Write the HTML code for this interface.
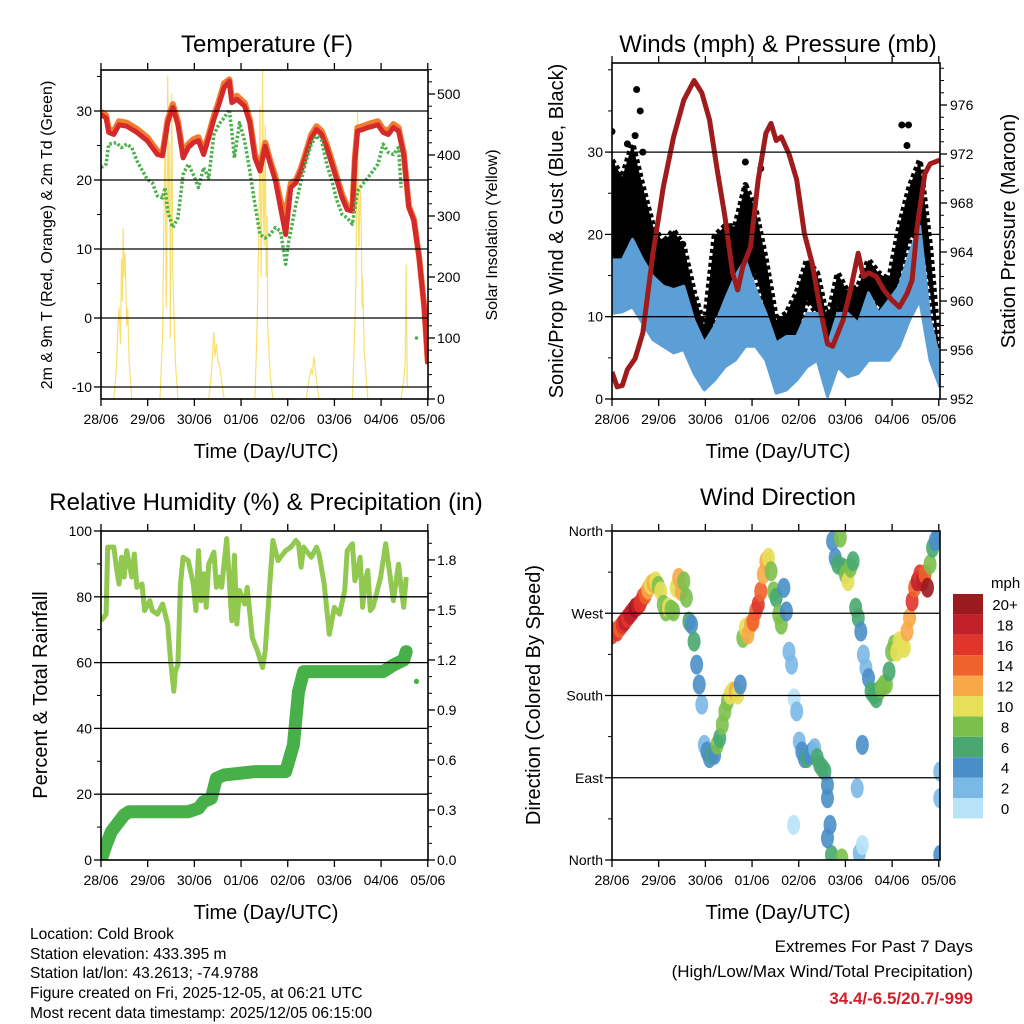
<!DOCTYPE html>
<html><head><meta charset="utf-8">
<style>
html,body{margin:0;padding:0;background:#fff;}
svg{display:block;font-family:"Liberation Sans",Arial,sans-serif;}
</style></head>
<body>
<svg id="root" width="1024" height="1024" viewBox="0 0 1024 1024">
<defs>
<clipPath id="c1"><rect x="101" y="70" width="327" height="329"/></clipPath>
<clipPath id="c2"><rect x="612" y="63" width="328" height="336"/></clipPath>
<clipPath id="c3"><rect x="101" y="531" width="327" height="329"/></clipPath>
<clipPath id="c4"><rect x="612" y="531" width="328" height="329"/></clipPath>
</defs>
<text x="267" y="52" font-size="24" text-anchor="middle">Temperature (F)</text>
<text x="778" y="52" font-size="24" text-anchor="middle">Winds (mph) &amp; Pressure (mb)</text>
<text x="266" y="510" font-size="24" text-anchor="middle">Relative Humidity (%) &amp; Precipitation (in)</text>
<text x="778" y="505" font-size="24" text-anchor="middle">Wind Direction</text>

<text transform="translate(52,235) rotate(-90)" font-size="16" text-anchor="middle">2m &amp; 9m T (Red, Orange) &amp; 2m Td (Green)</text>
<text transform="translate(497,235) rotate(-90)" font-size="16" text-anchor="middle">Solar Insolation (Yellow)</text>
<text transform="translate(563,231) rotate(-90)" font-size="20" text-anchor="middle">Sonic/Prop Wind &amp; Gust (Blue, Black)</text>
<text transform="translate(1015,231) rotate(-90)" font-size="20" text-anchor="middle">Station Pressure (Maroon)</text>
<text transform="translate(47,695) rotate(-90)" font-size="20" text-anchor="middle">Percent &amp; Total Rainfall</text>
<text transform="translate(540,695) rotate(-90)" font-size="20" text-anchor="middle">Direction (Colored By Speed)</text>

<text x="266" y="458" font-size="20" text-anchor="middle">Time (Day/UTC)</text>
<text x="778" y="458" font-size="20" text-anchor="middle">Time (Day/UTC)</text>
<text x="266" y="919" font-size="20" text-anchor="middle">Time (Day/UTC)</text>
<text x="778" y="919" font-size="20" text-anchor="middle">Time (Day/UTC)</text>

<g font-size="15.5">
<text x="30" y="939">Location: Cold Brook</text>
<text x="30" y="959">Station elevation: 433.395 m</text>
<text x="30" y="978">Station lat/lon: 43.2613; -74.9788</text>
<text x="30" y="998">Figure created on Fri, 2025-12-05, at 06:21 UTC</text>
<text x="30" y="1018">Most recent data timestamp: 2025/12/05 06:15:00</text>
</g>
<g font-size="17" text-anchor="end">
<text x="973" y="952">Extremes For Past 7 Days</text>
<text x="973" y="977">(High/Low/Max Wind/Total Precipitation)</text>
<text x="973" y="1004" fill="#d0202a" font-weight="bold">34.4/-6.5/20.7/-999</text>
</g>
</svg>
<script>
// ---------- DATA ----------
const xTickLabels=['28/06','29/06','30/06','01/06','02/06','03/06','04/06','05/06'];
const xTickPos=[0,0.91,1.82,2.73,3.64,4.55,5.46,6.37];

const tDays=[0,0.1,0.15,0.25,0.35,0.5,0.7,0.9,1.1,1.2,1.3,1.4,1.5,1.6,1.7,1.8,1.9,2.0,2.1,2.2,2.3,2.4,2.5,2.55,2.65,2.8,2.9,3.0,3.1,3.2,3.3,3.4,3.5,3.6,3.7,3.8,3.9,4.0,4.1,4.2,4.3,4.4,4.5,4.6,4.7,4.8,4.9,4.95,5.0,5.1,5.2,5.3,5.4,5.5,5.6,5.7,5.8,5.9,6.0,6.1,6.2,6.3,6.37];
const temp2m=[29.5,29,26.9,26.6,28,27.8,26.9,25.7,23.7,23.5,28.3,30.5,28,23.2,24.7,25.4,25.7,23.7,26.1,28.8,31,33.4,34.3,31.2,31.7,30.7,28.3,23.2,21.3,24.9,22.3,19.9,16,12.1,18.9,19.6,21.3,23.7,26.1,27.3,26.6,24.7,22.3,19.9,17.4,15.7,15.5,22.8,27.1,27.3,27.6,27.8,28,26.9,26.6,27.6,27.1,23.7,16,14.1,8.7,1.5,-6.7];
const temp9m=[29.9,29.4,27.4,27.1,28.5,28.3,27.4,26.2,24.2,24,28.8,31,28.5,23.8,25.2,25.9,26.2,24.2,26.6,29.3,31.5,34,34.6,31.8,32.2,31.2,28.8,23.8,21.9,25.4,22.8,20.5,17,15,19.5,20,21.8,24.2,26.6,27.8,27.1,25.2,22.8,20.4,17.9,16.2,16,23.3,27.6,27.8,28.1,28.3,28.5,27.4,27.1,28.1,27.6,24,16.3,14.3,8.9,1.7,-6.5];
const tdDays=[0,0.1,0.15,0.3,0.4,0.5,0.6,0.7,0.9,1.0,1.1,1.2,1.25,1.3,1.4,1.5,1.6,1.7,1.8,1.9,2.0,2.1,2.2,2.3,2.4,2.5,2.55,2.6,2.7,2.8,2.9,3.0,3.1,3.2,3.3,3.4,3.5,3.6,3.65,3.7,3.8,3.9,4.0,4.1,4.2,4.3,4.4,4.5,4.6,4.7,4.8,4.9,5.0,5.1,5.2,5.3,5.4,5.5,5.6,5.7,5.8,5.85];
const dew2m=[21.8,22.3,25.2,25.4,24.7,25.2,24.7,22.8,20.1,19.6,17.7,17.4,18.9,15.5,13.1,14.5,20.8,22.3,20.8,18.9,21.8,20.3,26.6,28.1,29,30.2,27.1,23.2,28.3,25.7,21.3,16.5,12.1,11.6,12.1,13.1,12.6,7.8,10.7,12.6,16.5,19.9,22.8,25.2,26.4,25.7,22.3,19.9,17,15,14.5,13.6,18.4,19.4,20.3,21.3,22.3,25.2,24,23.7,24.7,18.9];
const dewLoneDay=[6.15];
const dewLoneVal=[-2.9];
const solDays=[0,0.25,0.3,0.33,0.35,0.38,0.4,0.42,0.43,0.45,0.47,0.5,0.52,0.55,0.6,1.15,1.18,1.2,1.22,1.25,1.27,1.28,1.3,1.32,1.34,1.35,1.37,1.38,1.4,1.42,1.45,1.5,2.1,2.15,2.18,2.2,2.22,2.25,2.28,2.3,2.35,2.4,3.0,3.03,3.05,3.08,3.1,3.12,3.14,3.15,3.17,3.18,3.2,3.22,3.24,3.25,3.3,3.35,4.0,4.05,4.1,4.12,4.15,4.2,4.25,4.9,4.95,4.97,4.99,5.0,5.02,5.03,5.05,5.07,5.09,5.1,5.13,5.2,5.85,5.9,5.93,5.95,5.97];
const solVals=[0,0,50,120,150,90,230,160,280,200,240,120,150,60,0,0,60,100,250,450,150,200,530,300,420,100,320,500,200,150,60,0,0,40,80,110,70,90,60,60,30,0,0,80,150,300,480,200,350,540,300,250,450,200,300,120,40,0,0,30,50,40,70,30,0,0,120,200,420,470,250,250,350,300,150,200,80,0,0,30,60,220,20];

const pDays=[0,0.1,0.2,0.3,0.45,0.6,0.8,1.0,1.2,1.4,1.6,1.75,1.9,2.05,2.2,2.35,2.45,2.55,2.7,2.85,3.0,3.1,3.2,3.3,3.45,3.6,3.75,3.9,4.05,4.2,4.3,4.5,4.65,4.8,4.9,5.0,5.15,5.3,5.45,5.6,5.75,5.85,5.95,6.1,6.2,6.39];
const pressure=[954.2,953.0,953.1,954.4,955.3,957.4,963.9,969.3,973.4,976.4,978.0,977.0,974.8,970.7,966.9,962.3,960.9,962.8,964.4,969.9,973.7,974.5,973.1,973.4,972.0,969.9,965.5,963.1,959.5,956.5,956.3,958.4,960.9,963.9,962.0,962.3,962.0,960.9,960.1,959.5,960.6,961.7,966.1,970.4,971.2,971.5];
const wDays=[0,0.2,0.4,0.6,0.8,1.0,1.2,1.4,1.6,1.8,2.0,2.2,2.4,2.6,2.8,3.0,3.2,3.4,3.6,3.8,4.0,4.2,4.4,4.6,4.8,5.0,5.2,5.4,5.6,5.8,6.0,6.2,6.39];
const windHigh=[16.9,16.9,19.4,16.9,14.9,13.7,13.3,13.7,9.5,6.8,8.8,12,14.9,16.9,13.3,10.4,6.8,7.6,7.6,10.4,10.4,6.4,10.4,10.4,9.2,12.9,10.4,12,13.7,17.7,21,9.6,4.7];
const windLow=[10.4,10.6,11.2,9.2,7.2,6.4,5.6,6,3.1,1.1,2.3,3.9,4.7,6.4,6.4,4.7,0.7,1.1,2.3,3.9,4.7,0.3,3.9,2.7,3.1,4.7,4.7,4.7,6.4,9.6,12,4.7,1.5];
const gustHigh=[29,27,31,25.8,21,19,20.5,18.5,12.9,8.8,19.8,21,21,26,23,16.9,9.6,10.4,12.9,16.9,15.3,9.6,15.3,12.9,13.7,16.9,15.3,14.5,21,25.8,29,18.5,4.7];
const gustLow=[12.9,12,13.7,12.9,11.2,12,10.4,8.8,5.6,4.7,9.6,12,12.9,14.5,15.3,10.4,5.6,6.4,7.2,12,10.4,5.6,11.2,8.8,8.8,12.9,11.2,10.4,14.5,19.4,21,12.9,3.9];
const gustOutDays=[0.0,0.45,0.48,0.55,1.38,2.6,2.9,5.65,5.75,5.78,0.6,0.3];
const gustOutVals=[32.5,32,37.6,35,18.8,28.8,28,33.3,30.8,33.3,30,31];

const rhDays=[0,0.1,0.13,0.25,0.3,0.35,0.4,0.45,0.5,0.6,0.65,0.7,0.8,0.85,0.95,1.0,1.1,1.2,1.3,1.35,1.42,1.45,1.5,1.55,1.6,1.7,1.8,1.85,1.9,1.95,2.0,2.05,2.1,2.2,2.25,2.3,2.35,2.45,2.55,2.6,2.65,2.7,2.8,2.85,2.95,3.05,3.15,3.2,3.3,3.35,3.45,3.5,3.6,3.7,3.8,3.85,3.9,3.95,4.1,4.2,4.25,4.35,4.45,4.55,4.65,4.75,4.8,4.9,4.95,5.0,5.05,5.1,5.15,5.2,5.25,5.3,5.35,5.45,5.55,5.7,5.8,5.85,5.9,5.95];
const rh=[72.7,74.7,95.1,95.1,89,83.9,92,86,94,86,93,82.9,83.9,75.8,78.8,75.8,74.7,77.8,71.7,61.5,51.3,57.4,59.3,83.9,92,91,83.9,75.8,94,78.8,87,76.8,89.9,93.6,82.9,86,82.9,97.7,72.7,92.6,71.7,81.9,77.8,82.9,67.6,63.5,58.5,63.5,86,97.1,91,92,94,95.1,97.1,96.1,89,95.1,92,95.1,93,83.9,68.6,76.8,74.7,81.9,94,96.1,84.9,88,92,76.8,84.9,88,75.8,76.8,79.8,86,96.1,78.8,89.9,83,76.8,86];
const rhLoneDay=[6.15];
const rhLoneVal=[54.4];
const prDays=[0,0.1,0.2,0.3,0.45,0.55,1.0,1.7,1.9,2.0,2.15,2.25,2.4,3.0,3.6,3.75,3.85,3.95,4.1,4.5,5.5,5.7,5.9,5.95];
const precip=[0,0.09,0.17,0.21,0.27,0.29,0.29,0.29,0.31,0.35,0.37,0.49,0.51,0.53,0.53,0.69,1.01,1.13,1.13,1.13,1.13,1.17,1.2,1.25];
const prLoneDay=[6.15];
const prLoneVal=[1.07];

const dirDays=[0,0.05,0.1,0.15,0.2,0.25,0.3,0.35,0.4,0.45,0.5,0.55,0.6,0.65,0.7,0.75,0.8,0.85,0.9,0.95,1.0,1.05,1.1,1.15,1.2,1.25,1.3,1.35,1.4,1.45,1.5,1.55,1.6,1.65,1.7,1.75,1.8,1.85,1.9,1.95,2.0,2.05,2.1,2.15,2.2,2.25,2.3,2.35,2.4,2.45,2.5,2.55,2.6,2.65,2.7,2.75,2.8,2.85,2.9,2.95,3.0,3.05,3.1,3.15,3.2,3.25,3.3,3.35,3.4,3.45,3.5,3.55,3.6,3.65,3.7,3.75,3.8,3.85,3.9,3.95,4.0,4.05,4.1,4.15,4.2,4.25,4.28,4.3,4.35,4.4,4.45,4.5,4.55,4.6,4.65,4.7,4.75,4.8,4.85,4.9,4.95,5.0,5.05,5.1,5.15,5.2,5.25,5.3,5.35,5.4,5.45,5.5,5.55,5.6,5.65,5.7,5.75,5.8,5.85,5.9,5.95,6.0,6.05,6.1,6.15,6.2,6.25,6.3,6.35,6.39,6.39,6.39,4.82,4.78,3.54,4.88,4.88,4.48,4.2,4.2];
const dirVals=[246.7,250,250,254,257.7,261,265,268.6,272,276,277.8,281,287,290.4,296,301.5,303,305,300,294,279.5,272,276,274,272,297.8,308.7,294,305,287,261,257.6,239,213.8,192,170,126,118.8,111.5,115,115,126,133.4,148,162.6,173.6,181,184.6,184.6,181,192,243,254,246.7,257.7,261,272,279.5,294,312.6,327,330.7,316,294,287,268.6,257.6,297.8,272,228,213.8,177,162.6,129.7,118.8,111.5,111.5,115,118.8,122.4,111.5,104,100.5,96.9,82,38.4,5.5,349,330.7,323.5,352.7,319.8,312.5,305,319.8,327,276,265,250,224.8,210,199,184.6,181,177,184.6,188,192,192,206.4,228,235.8,228,239.4,235.8,232,250,265,283,298,305,312.5,305,312.5,298,323.5,341.7,349,356,96.8,67.6,5.5,7.3,78.5,38.4,16.4,126,1.8,67.6,23.8];
const dirSpeed=[16,14,16,14,16,18,16,18,18,20,18,16,16,14,12,10,12,10,8,10,8,8,10,8,8,10,12,12,8,8,6,4,6,4,4,2,2,4,4,6,4,8,6,8,8,8,10,10,12,10,4,8,10,12,12,14,14,16,14,12,12,10,8,8,6,8,8,4,4,2,2,0,2,2,4,4,6,4,4,2,6,6,6,6,4,4,6,4,4,6,8,6,8,10,8,6,6,6,4,2,2,4,6,6,6,6,8,8,8,6,8,8,10,10,10,10,12,12,16,14,18,16,18,14,20,8,6,4,4,2,2,4,2,2,0,0,4,8,4,4];
const speedLabels=['0','2','4','6','8','10','12','14','16','18','20+'];
const speedColors=['#b8e2f8','#7ab8e6','#4a8ec8','#48a870','#7cc04c','#e6e058','#f8a848','#f0622b','#e0352b','#c0202a','#9b1a1e'];

// ---------- AXES ----------
const x1=d=>101+d*51.3, yT=v=>111+(30-v)*6.9, ySol=s=>399-s*0.61;
const x2=d=>612+d*51.3, yW=v=>399-v*8.23, yP=p=>399-(p-952)*12.25;
const x3=d=>101+d*51.3, yRH=v=>860-v*3.29, yPc=p=>860-p*166.7;
const x4=d=>612+d*51.3, yD=v=>860-v*329/360;

const NS='http://www.w3.org/2000/svg';
const root=document.getElementById('root');
function mk(tag,parent,o){const e=document.createElementNS(NS,tag);for(const k in o)e.setAttribute(k,o[k]);parent.appendChild(e);return e;}
function pts(xs,ys,fx,fy){return xs.map((d,i)=>fx(d).toFixed(1)+','+fy(ys[i]).toFixed(1)).join(' ');}

function frame(name,L,T,R,B,clip){
  const g=mk('g',root,{});
  
  
  const m=mk('g',g,{'clip-path':'url(#'+clip+')'});
  
  
  return {g,m,L,T,R,B};
}
function grid(P,ys,name){
  ys.forEach(y=>{const l=mk('line',P.g,{x1:P.L,x2:P.R,y1:y,y2:y,stroke:'#000','stroke-width':1.3});
    
    });
}
function border(P){
  const r=mk('rect',P.g,{x:P.L,y:P.T,width:P.R-P.L,height:P.B-P.T,fill:'none',stroke:'#000','stroke-width':1.6});
  
  
  xTickPos.forEach((d,i)=>{
    const x=P.L+d*51.3;
    const t1=mk('line',P.g,{x1:x,x2:x,y1:P.B,y2:P.B+7,stroke:'#000','stroke-width':1.3});
    
    
    const t2=mk('line',P.g,{x1:x,x2:x,y1:P.T,y2:P.T-7,stroke:'#000','stroke-width':1.3});
    
    
    const tx=mk('text',P.g,{x:x,y:P.B+25,'font-size':14,'text-anchor':'middle'});
    tx.textContent=xTickLabels[i];
    
    
  });
}
function yAxis(P,side,vals,fy,labels,minorVals,anchorX){
  vals.forEach((v,i)=>{
    const y=fy(v), x=side<0?P.L:P.R;
    const t=mk('line',P.g,{x1:x,x2:x+side*7,y1:y,y2:y,stroke:'#000','stroke-width':1.3});
    
    
    const tx=mk('text',P.g,{x:anchorX,y:y+5,'font-size':14,'text-anchor':side<0?'end':'start'});
    tx.textContent=labels[i];
    
    
  });
  minorVals.forEach(v=>{
    const y=fy(v), x=side<0?P.L:P.R;
    const t=mk('line',P.g,{x1:x,x2:x+side*4,y1:y,y2:y,stroke:'#000','stroke-width':1});
    
    
  });
}
function range(a,b,s){const r=[];for(let v=a;v<=b+1e-9;v+=s)r.push(+v.toFixed(3));return r;}

// ---------- PANEL 1 ----------
const P1=frame('temperature-panel',101,70,428,399,'c1');
grid(P1,[30,20,10,0,-10].map(yT),'temperature-gridline');
let e;
e=mk('polyline',P1.m,{points:pts(solDays,solVals,x1,ySol),fill:'none',stroke:'#f8e070','stroke-width':1.2});


e=mk('polyline',P1.m,{points:pts(tDays,temp9m,x1,yT),fill:'none',stroke:'#f47a30','stroke-width':6,'stroke-linejoin':'round'});


e=mk('polyline',P1.m,{points:pts(tDays,temp2m,x1,yT),fill:'none',stroke:'#d42a2a','stroke-width':5,'stroke-linejoin':'round'});


e=mk('polyline',P1.m,{points:pts(tdDays,dew2m,x1,yT),fill:'none',stroke:'#4cb04c','stroke-width':3.5,'stroke-dasharray':'2.5 2','stroke-linejoin':'round'});


dewLoneDay.forEach((d,i)=>{e=mk('circle',P1.m,{cx:x1(d),cy:yT(dewLoneVal[i]),r:1.8,fill:'#4cb04c'});

});
border(P1);
yAxis(P1,-1,[30,20,10,0,-10],yT,['30','20','10','0','-10'],[35,25,15,5,-5],92);
yAxis(P1,1,[0,100,200,300,400,500],ySol,['0','100','200','300','400','500'],range(20,540,20),437);

// ---------- PANEL 2 ----------
const P2=frame('winds-panel',612,63,940,399,'c2');
grid(P2,[10,20,30].map(yW),'wind-gridline');
e=mk('polygon',P2.m,{points:pts(wDays,gustHigh,x2,yW)+' '+pts(wDays.slice().reverse(),gustLow.slice().reverse(),x2,yW),fill:'#000',stroke:'#000','stroke-width':6,'stroke-linejoin':'round','stroke-dasharray':'4 3'});


gustOutDays.forEach((d,i)=>{e=mk('circle',P2.m,{cx:x2(d),cy:yW(gustOutVals[i]),r:3.5,fill:'#000'});

});
e=mk('polygon',P2.m,{points:pts(wDays,windHigh,x2,yW)+' '+pts(wDays.slice().reverse(),windLow.slice().reverse(),x2,yW),fill:'#5b9fd6',stroke:'#5b9fd6','stroke-width':3,'stroke-linejoin':'round'});


e=mk('polyline',P2.m,{points:pts(pDays,pressure,x2,yP),fill:'none',stroke:'#a01c1c','stroke-width':5,'stroke-linejoin':'round'});


border(P2);
yAxis(P2,-1,[0,10,20,30],yW,['0','10','20','30'],[5,15,25,35,40],603);
yAxis(P2,1,[952,956,960,964,968,972,976],yP,['952','956','960','964','968','972','976'],range(953,979,1),950);

// ---------- PANEL 3 ----------
const P3=frame('humidity-panel',101,531,428,860,'c3');
grid(P3,[20,40,60,80].map(yRH),'humidity-gridline');
e=mk('polyline',P3.m,{points:pts(rhDays,rh,x3,yRH),fill:'none',stroke:'#90c850','stroke-width':5,'stroke-linejoin':'round'});


rhLoneDay.forEach((d,i)=>{e=mk('circle',P3.m,{cx:x3(d),cy:yRH(rhLoneVal[i]),r:2.5,fill:'#90c850'});

});
e=mk('polyline',P3.m,{points:pts(prDays,precip,x3,yPc),fill:'none',stroke:'#48b048','stroke-width':13,'stroke-linejoin':'round','stroke-linecap':'round'});


prLoneDay.forEach((d,i)=>{e=mk('circle',P3.m,{cx:x3(d),cy:yPc(prLoneVal[i]),r:2.5,fill:'#48b048'});

});
border(P3);
yAxis(P3,-1,[0,20,40,60,80,100],yRH,['0','20','40','60','80','100'],[10,30,50,70,90],92);
yAxis(P3,1,[0,0.3,0.6,0.9,1.2,1.5,1.8],yPc,['0.0','0.3','0.6','0.9','1.2','1.5','1.8'],range(0.1,1.9,0.1),437);

// ---------- PANEL 4 ----------
const P4=frame('direction-panel',612,531,940,860,'c4');
grid(P4,[270,180,90].map(yD),'direction-gridline');
dirDays.forEach((d,i)=>{
  const c=speedColors[Math.min(10,Math.floor(dirSpeed[i]/2))];
  e=mk('ellipse',P4.m,{cx:x4(d),cy:yD(dirVals[i]),rx:6.5,ry:10,fill:c,'fill-opacity':0.9});
  
  
});
border(P4);
yAxis(P4,-1,[360,270,180,90,0],yD,['North','West','South','East','North'],[315,225,135,45],603);
// colorbar
const cb=mk('g',root,{});


e=mk('text',cb,{x:991,y:588,'font-size':15});e.textContent='mph';


speedColors.forEach((c,i)=>{
  const y=798-i*20.4;
  e=mk('rect',cb,{x:953,y:y,width:30,height:20.4,fill:c});
  
  
  e=mk('text',cb,{x:1005,y:y+16,'font-size':15,'text-anchor':'middle'});
  e.textContent=speedLabels[i];
  
  
});
</script>
</body></html>
